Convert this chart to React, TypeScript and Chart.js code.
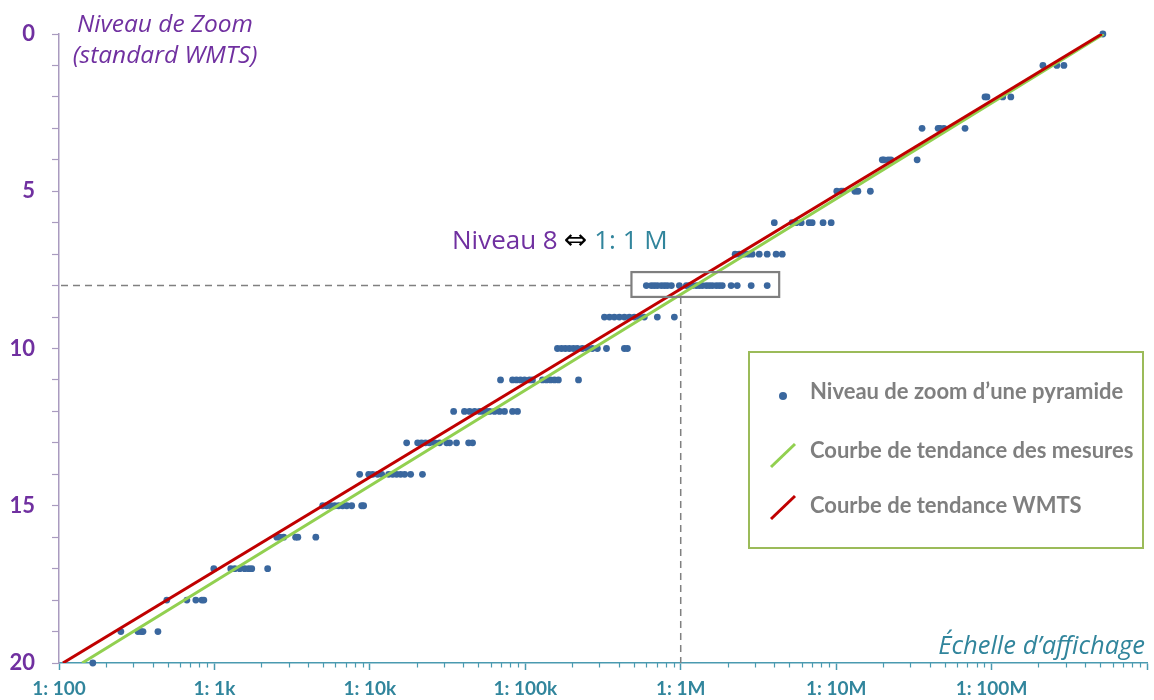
import React, { useEffect, useRef } from 'react';
import { Chart, registerables } from 'chart.js';

Chart.register(...registerables);

// ---- data ----
// measured scale denominators (1:x) of each pyramid, indexed by zoom level 0..20
const pyramidScales: number[][] = [
  [5.2e8],
  [2.14e8, 2.63e8, 2.92e8],
  [9.07e7, 9.34e7, 1.18e8, 1.33e8],
  [3.57e7, 4.53e7, 4.66e7, 4.94e7, 6.75e7],
  [1.98e7, 2.03e7, 2.16e7, 2.25e7, 3.32e7],
  [1.01e7, 1.08e7, 1.11e7, 1.32e7, 1.38e7, 1.66e7],
  [4.0e6, 5.21e6, 5.53e6, 5.96e6, 6.7e6, 7.01e6, 8.24e6, 9.29e6],
  [2.24e6, 2.38e6, 2.56e6, 2.72e6, 2.88e6, 3.2e6, 3.6e6, 4.11e6, 4.5e6],
  [6.01e5, 6.47e5, 6.76e5, 7.07e5, 7.5e5, 7.85e5, 8.2e5, 8.71e5, 9.8e5, 1.087e6, 1.136e6, 1.188e6, 1.26e6, 1.318e6, 1.377e6, 1.462e6, 1.528e6, 1.597e6, 1.694e6, 1.771e6, 1.85e6, 2.11e6, 2.31e6, 2.84e6, 3.6e6],
  [3.23e5, 3.48e5, 3.74e5, 4.03e5, 4.34e5, 4.67e5, 5.03e5, 5.42e5, 5.83e5, 7.07e5, 9.1e5],
  [1.61e5, 1.71e5, 1.81e5, 1.92e5, 2.04e5, 2.16e5, 2.33e5, 2.51e5, 2.7e5, 2.91e5, 3.33e5, 4.34e5, 4.54e5],
  [6.93e4, 8.28e4, 8.77e4, 9.31e4, 9.89e4, 1.064e5, 1.112e5, 1.29e5, 1.368e5, 1.452e5, 1.54e5, 1.633e5, 2.2e5],
  [3.46e4, 4.06e4, 4.38e4, 4.72e4, 5.08e4, 5.38e4, 5.63e4, 5.89e4, 6.34e4, 6.83e4, 7.35e4, 8.28e4, 8.91e4],
  [1.725e4, 2.03e4, 2.15e4, 2.28e4, 2.42e4, 2.61e4, 2.81e4, 3.12e4, 3.26e4, 3.61e4, 4.32e4, 4.58e4],
  [8.6e3, 9.83e3, 1.042e4, 1.122e4, 1.191e4, 1.321e4, 1.402e4, 1.486e4, 1.578e4, 1.675e4, 1.83e4, 2.18e4],
  [4.97e3, 5.27e3, 5.6e3, 5.94e3, 6.3e3, 6.68e3, 7.1e3, 7.64e3, 8.86e3, 9.12e3],
  [2.52e3, 2.63e3, 2.79e3, 3.33e3, 3.44e3, 4.49e3],
  [991, 1274, 1352, 1456, 1567, 1663, 1738, 2200],
  [494, 665, 759, 830, 855],
  [250, 322, 337, 347, 433],
  [165],
];

const trendLevels = [0, 20];
const trendMeasures = [5.27e8, 141];
const trendWMTS = [5.12e8, 106];

const xTickValues = [1e2, 1e3, 1e4, 1e5, 1e6, 1e7, 1e8, 1e9];
const xTickLabels = ['1: 100', '1: 1k', '1: 10k', '1: 100k', '1: 1M', '1: 10M', '1: 100M', ''];
const yTickValues = Array.from({ length: 21 }, (_, i) => i);
const yLabelled = [0, 5, 10, 15, 20];

// highlighted level 8 <-> 1:1M
const highlightLevel = 8;
const highlightScale = 1e6;
const highlightBoxX = [4.82e5, 4.3e6];
const highlightBoxY = [7.57, 8.36];

const PURPLE = '#7030A0';
const TEAL = '#31859C';
const DOT = '#3A679E';
const RED = '#C00000';
const GREEN = '#92D050';

const overlayPlugin = {
  id: 'overlay',
  afterDraw(chart: any) {
    const ctx: CanvasRenderingContext2D = chart.ctx;
    const xs = chart.scales.x;
    const ys = chart.scales.y;
    const area = chart.chartArea;
    ctx.save();

    // minor log ticks on x axis
    ctx.strokeStyle = '#4A9AB0';
    ctx.lineWidth = 1.2;
    for (let e = 2; e < 9; e++) {
      for (let k = 2; k <= 9; k++) {
        const px = Math.round(xs.getPixelForValue(k * Math.pow(10, e))) + 0.5;
        ctx.beginPath();
        ctx.moveTo(px, area.bottom);
        ctx.lineTo(px, area.bottom + 4.5);
        ctx.stroke();
      }
    }

    // dashed guide lines
    ctx.strokeStyle = '#808080';
    ctx.lineWidth = 1.5;
    ctx.setLineDash([7, 5]);
    const yH = ys.getPixelForValue(highlightLevel);
    const boxL = xs.getPixelForValue(highlightBoxX[0]);
    const boxR = xs.getPixelForValue(highlightBoxX[1]);
    const boxT = ys.getPixelForValue(highlightBoxY[0]);
    const boxB = ys.getPixelForValue(highlightBoxY[1]);
    const xH = xs.getPixelForValue(highlightScale);
    ctx.beginPath();
    ctx.moveTo(area.left + 2, yH);
    ctx.lineTo(boxL, yH);
    ctx.stroke();
    ctx.beginPath();
    ctx.moveTo(xH, boxB);
    ctx.lineTo(xH, area.bottom);
    ctx.stroke();
    ctx.setLineDash([]);

    // highlight box
    ctx.strokeStyle = '#7F7F7F';
    ctx.lineWidth = 2.2;
    ctx.strokeRect(boxL, boxT, boxR - boxL, boxB - boxT);

    // axis titles
    ctx.fillStyle = PURPLE;
    ctx.font = 'italic 24.5px "Open Sans"';
    ctx.textAlign = 'center';
    ctx.textBaseline = 'alphabetic';
    ctx.fillText('Niveau de Zoom', 165, 32);
    ctx.fillText('(standard WMTS)', 165, 63);

    ctx.fillStyle = TEAL;
    ctx.textAlign = 'right';
    ctx.font = 'italic 25.5px "Open Sans"';
    ctx.fillText('Échelle d’affichage', 1145, 654);

    // annotation text
    ctx.textAlign = 'left';
    ctx.font = '26px "Open Sans", "DejaVu Sans"';
    let tx = 452;
    const ty = 249;
    ctx.fillStyle = PURPLE;
    ctx.fillText('Niveau 8', tx, ty);
    tx += ctx.measureText('Niveau 8').width + 6;
    ctx.fillStyle = '#000000';
    ctx.font = '28px "DejaVu Sans"';
    ctx.fillText('⇔', tx, ty);
    tx += ctx.measureText('⇔').width + 7;
    ctx.fillStyle = TEAL;
    ctx.font = '26px "Open Sans", "DejaVu Sans"';
    ctx.fillText('1: 1 M', tx, ty);

    // legend box
    ctx.strokeStyle = '#9BBB59';
    ctx.lineWidth = 2;
    ctx.fillStyle = '#FFFFFF';
    ctx.fillRect(749, 352, 394, 196);
    ctx.strokeRect(749, 352, 394, 196);

    ctx.fillStyle = DOT;
    ctx.beginPath();
    ctx.arc(783, 396, 4, 0, Math.PI * 2);
    ctx.fill();

    ctx.lineWidth = 3;
    ctx.strokeStyle = GREEN;
    ctx.beginPath();
    ctx.moveTo(771, 467);
    ctx.lineTo(795, 444);
    ctx.stroke();
    ctx.strokeStyle = RED;
    ctx.beginPath();
    ctx.moveTo(771, 519);
    ctx.lineTo(795, 496);
    ctx.stroke();

    ctx.fillStyle = '#7F7F7F';
    ctx.font = 'bold 22px Lato';
    ctx.textBaseline = 'middle';
    const labels = chart.data.datasets.map((d: any) => d.label);
    ctx.fillText(labels[2], 810, 392);
    ctx.fillText(labels[1], 810, 451);
    ctx.fillText(labels[0], 810, 506);

    ctx.restore();
  },
};

export default function App() {
  const canvasRef = useRef<HTMLCanvasElement>(null);

  useEffect(() => {
    const canvas = canvasRef.current;
    if (!canvas) return;

    const points: { x: number; y: number }[] = [];
    pyramidScales.forEach((row, level) => row.forEach((s) => points.push({ x: s, y: level })));

    const chart = new Chart(canvas, {
      type: 'scatter',
      data: {
        datasets: [
          {
            label: 'Courbe de tendance WMTS',
            data: trendLevels.map((l, i) => ({ x: trendWMTS[i], y: l })),
            showLine: true,
            borderColor: RED,
            backgroundColor: RED,
            borderWidth: 3,
            pointRadius: 0,
            order: 0,
          } as any,
          {
            label: 'Courbe de tendance des mesures',
            data: trendLevels.map((l, i) => ({ x: trendMeasures[i], y: l })),
            showLine: true,
            borderColor: GREEN,
            backgroundColor: GREEN,
            borderWidth: 3,
            pointRadius: 0,
            order: 1,
          } as any,
          {
            label: 'Niveau de zoom d’une pyramide',
            data: points,
            backgroundColor: DOT,
            borderWidth: 0,
            pointRadius: 3.4,
            clip: false,
            order: 2,
          } as any,
        ],
      },
      options: {
        animation: false,
        responsive: false,
        devicePixelRatio: 1,
        layout: { padding: { top: 34, right: 6, left: 0, bottom: 0 } },
        plugins: { legend: { display: false }, tooltip: { enabled: false } },
        scales: {
          x: {
            type: 'logarithmic',
            position: 'bottom',
            min: 100,
            max: 1e9,
            afterBuildTicks: (s: any) => {
              s.ticks = xTickValues.map((v) => ({ value: v, major: true }));
            },
            afterFit: (s: any) => {
              s.height = 37;
            },
            border: { display: true, color: '#4A9AB0', width: 1.5 },
            grid: {
              display: true,
              drawOnChartArea: false,
              drawTicks: true,
              tickLength: 7,
              tickColor: '#4A9AB0',
              tickWidth: 1.5,
            },
            ticks: {
              autoSkip: false,
              maxRotation: 0,
              padding: 7,
              color: TEAL,
              font: { family: 'Lato', size: 19, weight: 'bold' },
              callback: (v: any) => {
                const i = xTickValues.indexOf(Number(v));
                return i >= 0 ? xTickLabels[i] : '';
              },
            },
          },
          y: {
            type: 'linear',
            reverse: true,
            min: 0,
            max: 20,
            afterBuildTicks: (s: any) => {
              s.ticks = yTickValues.map((v) => ({ value: v }));
            },
            afterFit: (s: any) => {
              s.width = 59;
            },
            border: { display: true, color: '#A99BBF', width: 1.5 },
            grid: {
              display: true,
              drawOnChartArea: false,
              drawTicks: true,
              tickLength: 7,
              tickColor: '#A99BBF',
              tickWidth: 1.2,
            },
            ticks: {
              autoSkip: false,
              padding: 17,
              color: PURPLE,
              font: { family: 'Lato', size: 22, weight: 'bold' },
              callback: (v: any) => (yLabelled.includes(Number(v)) ? String(v) : ''),
            },
          },
        },
      },
      plugins: [overlayPlugin],
    } as any);

    return () => chart.destroy();
  }, []);

  return (
    <div style={{ position: 'fixed', left: 0, top: 0, width: 1154, height: 700, background: '#fff' }}>
      <canvas ref={canvasRef} width={1154} height={700} style={{ display: 'block', width: 1154, height: 700 }} />
    </div>
  );
}
